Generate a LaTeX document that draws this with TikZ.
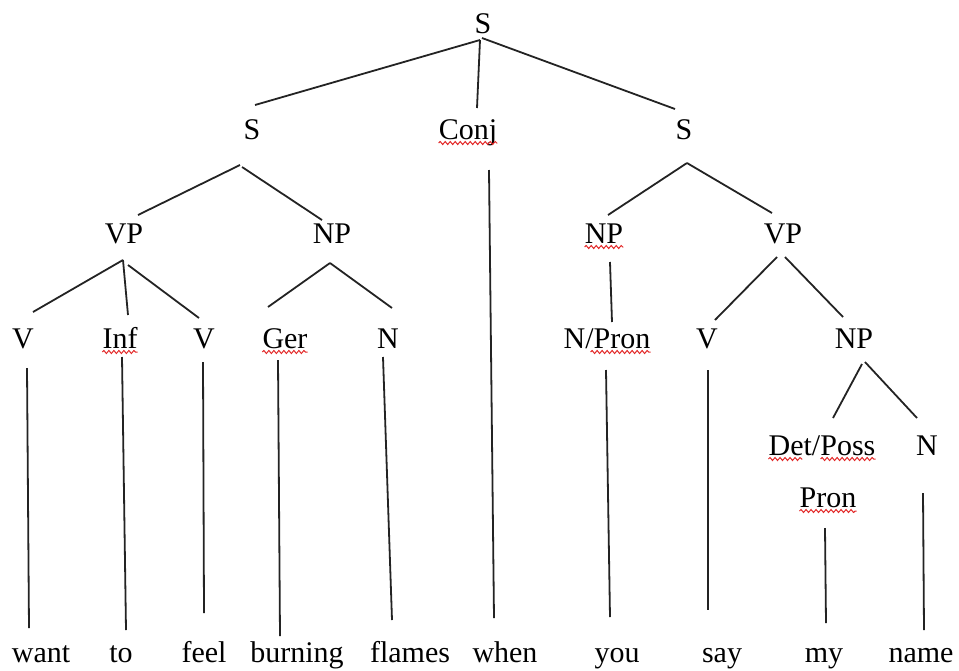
\documentclass[tikz,border=0pt]{standalone}
\usepackage{fontspec}
\setmainfont{Liberation Serif}
\usepackage{xcolor}
\usetikzlibrary{decorations.pathmorphing}
\definecolor{spellred}{RGB}{226,40,40}
\definecolor{branchgray}{RGB}{35,35,35}

\begin{document}
\begin{tikzpicture}[x=1pt,y=-1pt,
    cat/.style={anchor=base,inner sep=0pt,font=\fontsize{30}{36}\selectfont},
    word/.style={cat},
    branch/.style={line width=1.8pt,color=branchgray},
    squig/.style={color=spellred,line width=1pt,decorate,
      decoration={snake,amplitude=1.5pt,segment length=5pt}}]
  \useasboundingbox (0,0) rectangle (959,670);

  \node[cat] (s0)      at (483,33)  {S};
  \node[cat] (sL)      at (252,139) {S};
  \node[cat] (conj)    at (468,139) {Conj};
  \node[cat] (sR)      at (684,139) {S};
  \node[cat] (vpL)     at (124,243) {VP};
  \node[cat] (npL)     at (332,243) {NP};
  \node[cat] (npR)     at (604,243) {NP};
  \node[cat] (vpR)     at (783,243) {VP};
  \node[cat] (v1)      at (23,348)  {V};
  \node[cat] (inf)     at (120,348) {Inf};
  \node[cat] (v2)      at (204,348) {V};
  \node[cat] (ger)     at (285,348) {Ger};
  \node[cat] (n1)      at (388,348) {N};
  \node[cat] (npron)   at (607,348) {N/Pron};
  \node[cat] (v3)      at (707,348) {V};
  \node[cat] (npD)     at (854,348) {NP};
  \node[cat] (detposs) at (822,455) {Det/Poss};
  \node[cat] (n2)      at (927,455) {N};
  \node[cat] (pron)    at (828,507) {Pron};

  \node[word] (want)    at (41,662)  {want};
  \node[word] (to)      at (121,662) {to};
  \node[word] (feel)    at (204,662) {feel};
  \node[word] (burning) at (297,662) {burning};
  \node[word] (flames)  at (410,662) {flames};
  \node[word] (when)    at (505,662) {when};
  \node[word] (you)     at (617,662) {you};
  \node[word] (say)     at (722,662) {say};
  \node[word] (my)      at (824,662) {my};
  \node[word] (name)    at (921,662) {name};

  \draw[branch] ([shift={(-3,7)}]s0.base) -- ([shift={(3,-34)}]sL.base);
  \draw[branch] ([shift={(-3,7)}]s0.base) -- ([shift={(9,-31)}]conj.base);
  \draw[branch] ([shift={(-1,5)}]s0.base) -- ([shift={(-9,-30)}]sR.base);
  \draw[branch] ([shift={(-12,26)}]sL.base) -- ([shift={(14,-28)}]vpL.base);
  \draw[branch] ([shift={(-10,28)}]sL.base) -- ([shift={(-10,-23)}]npL.base);
  \draw[branch] ([shift={(3,24)}]sR.base) -- ([shift={(4,-28)}]npR.base);
  \draw[branch] ([shift={(3,24)}]sR.base) -- ([shift={(-11,-30)}]vpR.base);
  \draw[branch] ([shift={(-1,17)}]vpL.base) -- ([shift={(10,-36)}]v1.base);
  \draw[branch] ([shift={(-1,17)}]vpL.base) -- ([shift={(8,-33)}]inf.base);
  \draw[branch] ([shift={(4,22)}]vpL.base) -- ([shift={(-5,-30)}]v2.base);
  \draw[branch] ([shift={(-2,20)}]npL.base) -- ([shift={(-17,-41)}]ger.base);
  \draw[branch] ([shift={(-2,20)}]npL.base) -- ([shift={(4,-40)}]n1.base);
  \draw[branch] ([shift={(6,19)}]npR.base) -- ([shift={(5,-26)}]npron.base);
  \draw[branch] ([shift={(-6,14)}]vpR.base) -- ([shift={(8,-28)}]v3.base);
  \draw[branch] ([shift={(2,14)}]vpR.base) -- ([shift={(-11,-31)}]npD.base);
  \draw[branch] ([shift={(8,16)}]npD.base) -- ([shift={(11,-37)}]detposs.base);
  \draw[branch] ([shift={(11,14)}]npD.base) -- ([shift={(-10,-37)}]n2.base);

  \draw[branch] ([shift={(4,20)}]v1.base) -- ([shift={(-12,-34)}]want.base);
  \draw[branch] ([shift={(2,9)}]inf.base) -- ([shift={(5,-32)}]to.base);
  \draw[branch] ([shift={(-1,14)}]v2.base) -- ([shift={(0,-49)}]feel.base);
  \draw[branch] ([shift={(-7,12)}]ger.base) -- ([shift={(-17,-26)}]burning.base);
  \draw[branch] ([shift={(-5,9)}]n1.base) -- ([shift={(-18,-42)}]flames.base);
  \draw[branch] ([shift={(21,31)}]conj.base) -- ([shift={(-11,-44)}]when.base);
  \draw[branch] ([shift={(-1,22)}]npron.base) -- ([shift={(-7,-45)}]you.base);
  \draw[branch] ([shift={(1,22)}]v3.base) -- ([shift={(-14,-52)}]say.base);
  \draw[branch] ([shift={(-3,21)}]pron.base) -- ([shift={(2,-39)}]my.base);
  \draw[branch] ([shift={(-4,38)}]n2.base) -- ([shift={(3,-32)}]name.base);

  \draw[squig] ([shift={(0,4)}]conj.base west) -- ([shift={(0,4)}]conj.base east);
  \draw[squig] ([shift={(0,4)}]inf.base west) -- ([shift={(0,4)}]inf.base east);
  \draw[squig] ([shift={(0,4)}]ger.base west) -- ([shift={(0,4)}]ger.base east);
  \draw[squig] ([shift={(0,4)}]npR.base west) -- ([shift={(0,4)}]npR.base east);
  \draw[squig] ([shift={(-60,4)}]npron.base east) -- ([shift={(0,4)}]npron.base east);
  \draw[squig] ([shift={(0,4)}]detposs.base west) -- ([shift={(34,4)}]detposs.base west);
  \draw[squig] ([shift={(-55,4)}]detposs.base east) -- ([shift={(0,4)}]detposs.base east);
  \draw[squig] ([shift={(0,4)}]pron.base west) -- ([shift={(0,4)}]pron.base east);
\end{tikzpicture}
\end{document}
